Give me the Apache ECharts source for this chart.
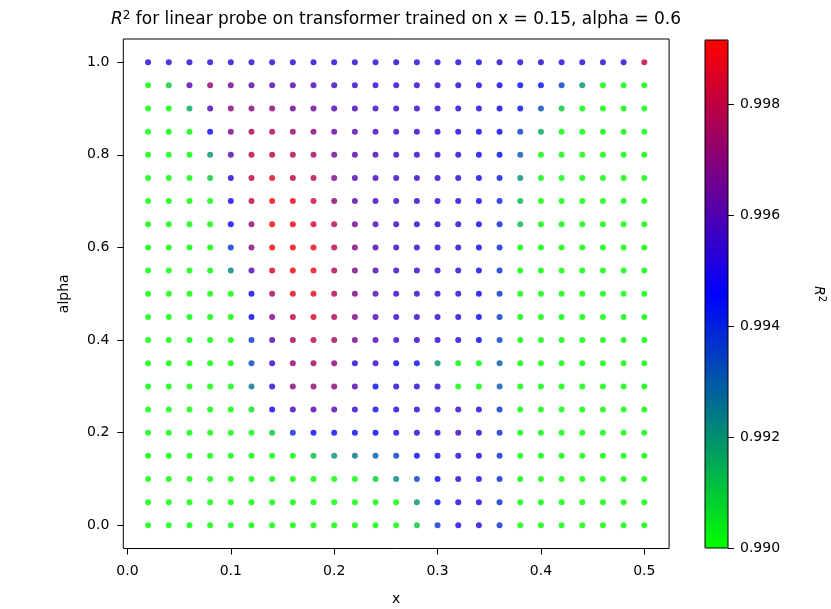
<!DOCTYPE html>
<html>
<head>
<meta charset="utf-8">
<script src="https://cdn.jsdelivr.net/npm/echarts@6/dist/echarts.min.js"></script>
<style>
  html, body { margin: 0; padding: 0; background: #fff; }
  #main { width: 831px; height: 609px; }
</style>
</head>
<body>
<div id="main"></div>
<script>
// grid of probe points
var xs = [0.02, 0.04, 0.06, 0.08, 0.10, 0.12, 0.14, 0.16, 0.18, 0.20, 0.22, 0.24, 0.26,
          0.28, 0.30, 0.32, 0.34, 0.36, 0.38, 0.40, 0.42, 0.44, 0.46, 0.48, 0.50];
// rows from alpha = 1.0 down to 0.0
var alphas = [1.00, 0.95, 0.90, 0.85, 0.80, 0.75, 0.70, 0.65, 0.60, 0.55, 0.50,
              0.45, 0.40, 0.35, 0.30, 0.25, 0.20, 0.15, 0.10, 0.05, 0.00];
// R^2 (values under 0.990 drawn as 0.990)
var r2 = [
  [0.9953,0.9953,0.9953,0.9953,0.9953,0.9953,0.9953,0.9953,0.9952,0.9952,0.9952,0.9952,0.9952,0.9952,0.9952,0.9950,0.9949,0.9952,0.9952,0.9952,0.9952,0.9952,0.9952,0.9952,0.9980],
  [0.9900,0.9910,0.9960,0.9972,0.9965,0.9960,0.9960,0.9960,0.9958,0.9957,0.9955,0.9954,0.9954,0.9954,0.9954,0.9952,0.9950,0.9948,0.9945,0.9944,0.9935,0.9920,0.9900,0.9900,0.9900],
  [0.9900,0.9900,0.9915,0.9958,0.9970,0.9970,0.9970,0.9965,0.9965,0.9960,0.9958,0.9957,0.9955,0.9955,0.9954,0.9952,0.9950,0.9948,0.9943,0.9932,0.9910,0.9900,0.9900,0.9900,0.9900],
  [0.9900,0.9900,0.9900,0.9945,0.9968,0.9977,0.9977,0.9973,0.9970,0.9963,0.9960,0.9958,0.9956,0.9955,0.9954,0.9952,0.9948,0.9945,0.9935,0.9915,0.9900,0.9900,0.9900,0.9900,0.9900],
  [0.9900,0.9900,0.9900,0.9920,0.9960,0.9980,0.9980,0.9978,0.9974,0.9965,0.9960,0.9958,0.9956,0.9955,0.9954,0.9952,0.9948,0.9944,0.9930,0.9900,0.9900,0.9900,0.9900,0.9900,0.9900],
  [0.9900,0.9900,0.9900,0.9910,0.9952,0.9980,0.9988,0.9980,0.9978,0.9968,0.9960,0.9958,0.9956,0.9955,0.9954,0.9952,0.9948,0.9942,0.9920,0.9900,0.9900,0.9900,0.9900,0.9900,0.9900],
  [0.9900,0.9900,0.9900,0.9900,0.9948,0.9980,0.9990,0.9988,0.9982,0.9970,0.9962,0.9958,0.9956,0.9955,0.9954,0.9952,0.9948,0.9940,0.9913,0.9900,0.9900,0.9900,0.9900,0.9900,0.9900],
  [0.9900,0.9900,0.9900,0.9900,0.9946,0.9970,0.9990,0.9990,0.9985,0.9978,0.9966,0.9960,0.9956,0.9955,0.9954,0.9953,0.9949,0.9940,0.9912,0.9900,0.9900,0.9900,0.9900,0.9900,0.9900],
  [0.9900,0.9900,0.9900,0.9900,0.9937,0.9970,0.9990,0.9990,0.9988,0.9978,0.9968,0.9960,0.9956,0.9955,0.9954,0.9953,0.9948,0.9938,0.9900,0.9900,0.9900,0.9900,0.9900,0.9900,0.9900],
  [0.9900,0.9900,0.9900,0.9900,0.9922,0.9960,0.9985,0.9990,0.9988,0.9978,0.9968,0.9960,0.9956,0.9955,0.9954,0.9953,0.9948,0.9938,0.9900,0.9900,0.9900,0.9900,0.9900,0.9900,0.9900],
  [0.9900,0.9900,0.9900,0.9900,0.9900,0.9947,0.9975,0.9988,0.9988,0.9977,0.9968,0.9960,0.9956,0.9955,0.9954,0.9953,0.9947,0.9937,0.9900,0.9900,0.9900,0.9900,0.9900,0.9900,0.9900],
  [0.9900,0.9900,0.9900,0.9900,0.9900,0.9946,0.9968,0.9980,0.9985,0.9976,0.9968,0.9960,0.9956,0.9955,0.9954,0.9953,0.9947,0.9936,0.9900,0.9900,0.9900,0.9900,0.9900,0.9900,0.9900],
  [0.9900,0.9900,0.9900,0.9900,0.9900,0.9937,0.9960,0.9975,0.9980,0.9975,0.9966,0.9960,0.9956,0.9955,0.9954,0.9953,0.9947,0.9935,0.9900,0.9900,0.9900,0.9900,0.9900,0.9900,0.9900],
  [0.9900,0.9900,0.9900,0.9900,0.9900,0.9933,0.9955,0.9972,0.9975,0.9970,0.9953,0.9955,0.9946,0.9944,0.9920,0.9900,0.9900,0.9930,0.9900,0.9900,0.9900,0.9900,0.9900,0.9900,0.9900],
  [0.9900,0.9900,0.9900,0.9900,0.9900,0.9925,0.9953,0.9970,0.9972,0.9970,0.9960,0.9945,0.9952,0.9953,0.9953,0.9900,0.9900,0.9930,0.9900,0.9900,0.9900,0.9900,0.9900,0.9900,0.9900],
  [0.9900,0.9900,0.9900,0.9900,0.9900,0.9905,0.9945,0.9958,0.9960,0.9960,0.9954,0.9948,0.9952,0.9953,0.9953,0.9955,0.9952,0.9937,0.9900,0.9900,0.9900,0.9900,0.9900,0.9900,0.9900],
  [0.9900,0.9900,0.9900,0.9900,0.9900,0.9900,0.9910,0.9938,0.9945,0.9945,0.9945,0.9946,0.9950,0.9952,0.9953,0.9956,0.9952,0.9938,0.9900,0.9900,0.9900,0.9900,0.9900,0.9900,0.9900],
  [0.9900,0.9900,0.9900,0.9900,0.9900,0.9900,0.9900,0.9900,0.9912,0.9920,0.9925,0.9930,0.9935,0.9944,0.9950,0.9953,0.9950,0.9938,0.9900,0.9900,0.9900,0.9900,0.9900,0.9900,0.9900],
  [0.9900,0.9900,0.9900,0.9900,0.9900,0.9900,0.9900,0.9900,0.9900,0.9900,0.9900,0.9908,0.9922,0.9935,0.9946,0.9952,0.9950,0.9938,0.9900,0.9900,0.9900,0.9900,0.9900,0.9900,0.9900],
  [0.9900,0.9900,0.9900,0.9900,0.9900,0.9900,0.9900,0.9900,0.9900,0.9900,0.9900,0.9900,0.9900,0.9920,0.9945,0.9950,0.9952,0.9938,0.9900,0.9900,0.9900,0.9900,0.9900,0.9900,0.9900],
  [0.9900,0.9900,0.9900,0.9900,0.9900,0.9900,0.9900,0.9900,0.9900,0.9900,0.9900,0.9900,0.9900,0.9910,0.9937,0.9950,0.9952,0.9938,0.9900,0.9900,0.9900,0.9900,0.9900,0.9900,0.9900]
];
var xTicks = [0.0, 0.1, 0.2, 0.3, 0.4, 0.5];
var yTicks = [0.0, 0.2, 0.4, 0.6, 0.8, 1.0];
var cbTicks = [0.990, 0.992, 0.994, 0.996, 0.998];
var cbMin = 0.990, cbMax = 0.99916;

var pts = [];
for (var i = 0; i < alphas.length; i++) {
  for (var j = 0; j < xs.length; j++) {
    pts.push([xs[j], alphas[i], r2[i][j]]);
  }
}

var font = 'DejaVu Sans';
var lbl = { color: '#000', fontSize: 14, fontFamily: font };

var myChart = echarts.init(document.getElementById('main'));
var option = {
  animation: false,
  textStyle: { fontFamily: font },
  graphic: [{
    type: 'text', x: 396, y: 20,
    style: {
      text: '{it|R}{sup|2} for linear probe on transformer trained on x = 0.15, alpha = 0.6',
      x: 0, y: 0, align: 'center', verticalAlign: 'middle',
      fill: '#000', fontSize: 17, fontFamily: font,
      rich: {
        it: { fontSize: 17, fontStyle: 'italic', fontFamily: font },
        sup: { fontSize: 12, fontFamily: font, padding: [0, 0, 9, 0] }
      }
    }
  }],
  grid: [
    { left: 123.3, top: 39, width: 545.8, height: 509.5, outerBoundsMode: 'none', containLabel: false,
      show: true, borderColor: '#000', borderWidth: 1, backgroundColor: 'transparent' },
    { left: 705, top: 40, width: 23, height: 508, outerBoundsMode: 'none', containLabel: false,
      show: true, borderColor: '#000', borderWidth: 1, backgroundColor: 'transparent', z: 10 }
  ],
  xAxis: [{
    type: 'value', gridIndex: 0, min: -0.004, max: 0.524,
    name: 'x', nameLocation: 'middle', nameGap: 44, nameTextStyle: lbl,
    axisLine: { show: false, onZero: false }, splitLine: { show: false },
    axisTick: { show: true, inside: false, length: 6, customValues: xTicks, lineStyle: { color: '#000' } },
    axisLabel: Object.assign({ margin: 16, customValues: xTicks, formatter: function (v) { return v.toFixed(1); } }, lbl)
  }, {
    type: 'value', gridIndex: 1, show: false, min: 0, max: 1
  }],
  yAxis: [{
    type: 'value', gridIndex: 0, min: -0.05, max: 1.05,
    name: 'alpha', nameLocation: 'middle', nameGap: 52, nameRotate: 90, nameTextStyle: lbl,
    axisLine: { show: false, onZero: false }, splitLine: { show: false },
    axisTick: { show: true, inside: false, length: 6, customValues: yTicks, lineStyle: { color: '#000' } },
    axisLabel: Object.assign({ margin: 14, customValues: yTicks, formatter: function (v) { return v.toFixed(1); } }, lbl)
  }, {
    type: 'value', gridIndex: 1, position: 'right', min: cbMin, max: cbMax,
    name: '{it|R}{sup|2}', nameLocation: 'middle', nameGap: 82, nameRotate: -90,
    nameTextStyle: {
      color: '#000', fontSize: 14, fontFamily: font,
      rich: {
        it: { fontSize: 14, fontStyle: 'italic', fontFamily: font, color: '#000' },
        sup: { fontSize: 10, fontFamily: font, color: '#000', padding: [0, 0, 7, 0] }
      }
    },
    axisLine: { show: false, onZero: false }, splitLine: { show: false },
    axisTick: { show: true, inside: false, length: 6, customValues: cbTicks, lineStyle: { color: '#000' } },
    axisLabel: Object.assign({ margin: 12, customValues: cbTicks, formatter: function (v) { return v.toFixed(3); } }, lbl)
  }],
  visualMap: {
    type: 'continuous', seriesIndex: 0, dimension: 2,
    min: cbMin, max: cbMax, calculable: false, hoverLink: false,
    orient: 'vertical', left: 705, top: 40, itemWidth: 23, itemHeight: 508, padding: 0,
    text: null, showLabel: false,
    inRange: { color: ['#00ff00', '#0000ff', '#ff0000'] }
  },
  series: [{
    type: 'scatter', xAxisIndex: 0, yAxisIndex: 0,
    symbol: 'circle', symbolSize: 6,
    data: pts
  }]
};
myChart.setOption(option);
</script>
</body>
</html>
